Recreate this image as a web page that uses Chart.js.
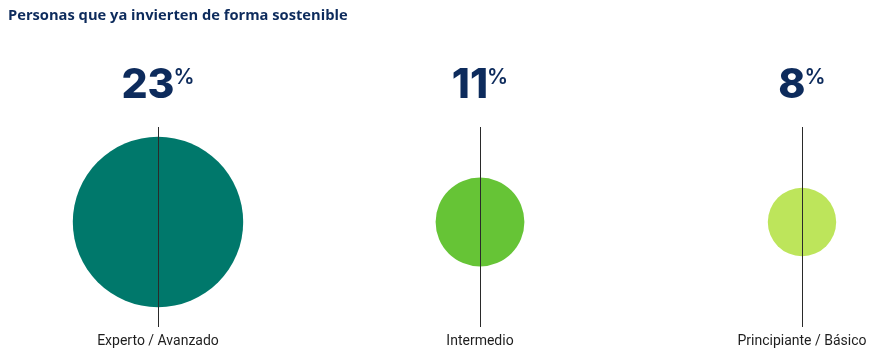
<!DOCTYPE html>
<html>
<head>
<meta charset="utf-8">
<script src="https://cdn.jsdelivr.net/npm/chart.js@4/dist/chart.umd.min.js"></script>
<style>
  html, body { margin: 0; padding: 0; background: #ffffff; }
  #wrap { position: relative; width: 891px; height: 357px; }
</style>
</head>
<body>
<div id="wrap"><canvas id="c" width="891" height="357"></canvas></div>
<script>
// ---- Data ----
const categories = ['Experto / Avanzado', 'Intermedio', 'Principiante / Básico'];
const values = [23, 11, 8];
const colors = ['#00786b', '#66c436', '#bde55b'];
const title = 'Personas que ya invierten de forma sostenible';

const navy = '#0d2b5c';
const radiusFor = v => 3.4 * v + 7;

const overlayPlugin = {
  id: 'overlay',
  afterDraw(chart) {
    const ctx = chart.ctx;
    const xs = chart.scales.x;
    ctx.save();
    // Title
    ctx.fillStyle = navy;
    ctx.textAlign = 'left';
    ctx.textBaseline = 'alphabetic';
    ctx.font = 'bold 14.7px "Open Sans", "Noto Sans", sans-serif';
    ctx.fillText(title, 8, 20);
    // Big numbers with superscript %
    values.forEach((v, i) => {
      const x = xs.getPixelForValue(i);
      const numFont = '800 41px Inter, "Noto Sans", sans-serif';
      const pctFont = '600 21px Inter, "Noto Sans", sans-serif';
      ctx.font = numFont;
      const w1 = ctx.measureText(String(v)).width;
      ctx.font = pctFont;
      const w2 = ctx.measureText('%').width;
      const gap = -1;
      const start = x - (w1 + gap + w2) / 2;
      ctx.fillStyle = navy;
      ctx.font = numFont;
      ctx.fillText(String(v), start, 98);
      ctx.font = pctFont;
      ctx.fillText('%', start + w1 + gap, 84);
    });
    ctx.restore();
  }
};

new Chart(document.getElementById('c'), {
  type: 'bubble',
  data: {
    labels: categories,
    datasets: [{
      data: values.map((v, i) => ({ x: i, y: 0, r: radiusFor(v) })),
      backgroundColor: colors,
      borderWidth: 0,
      hoverBorderWidth: 0,
      clip: false
    }]
  },
  options: {
    responsive: false,
    animation: false,
    events: [],
    layout: { autoPadding: false, padding: { left: 158, right: 89, top: 127, bottom: 8 } },
    plugins: {
      legend: { display: false },
      tooltip: { enabled: false },
      title: { display: false }
    },
    scales: {
      x: {
        type: 'category',
        labels: categories,
        offset: false,
        min: 0,
        max: 2,
        border: { display: false },
        grid: {
          color: '#2a2a2a',
          lineWidth: 1,
          drawTicks: false,
          offset: false,
          z: 1
        },
        ticks: {
          padding: 6,
          color: '#1e1e1e',
          maxRotation: 0,
          autoSkip: false,
          font: { family: 'Roboto, "Noto Sans", sans-serif', size: 14 }
        },
        afterFit: scale => { scale.height = 22; }
      },
      y: {
        display: false,
        min: -1.105,
        max: 1
      }
    }
  },
  plugins: [overlayPlugin]
});
</script>
</body>
</html>
